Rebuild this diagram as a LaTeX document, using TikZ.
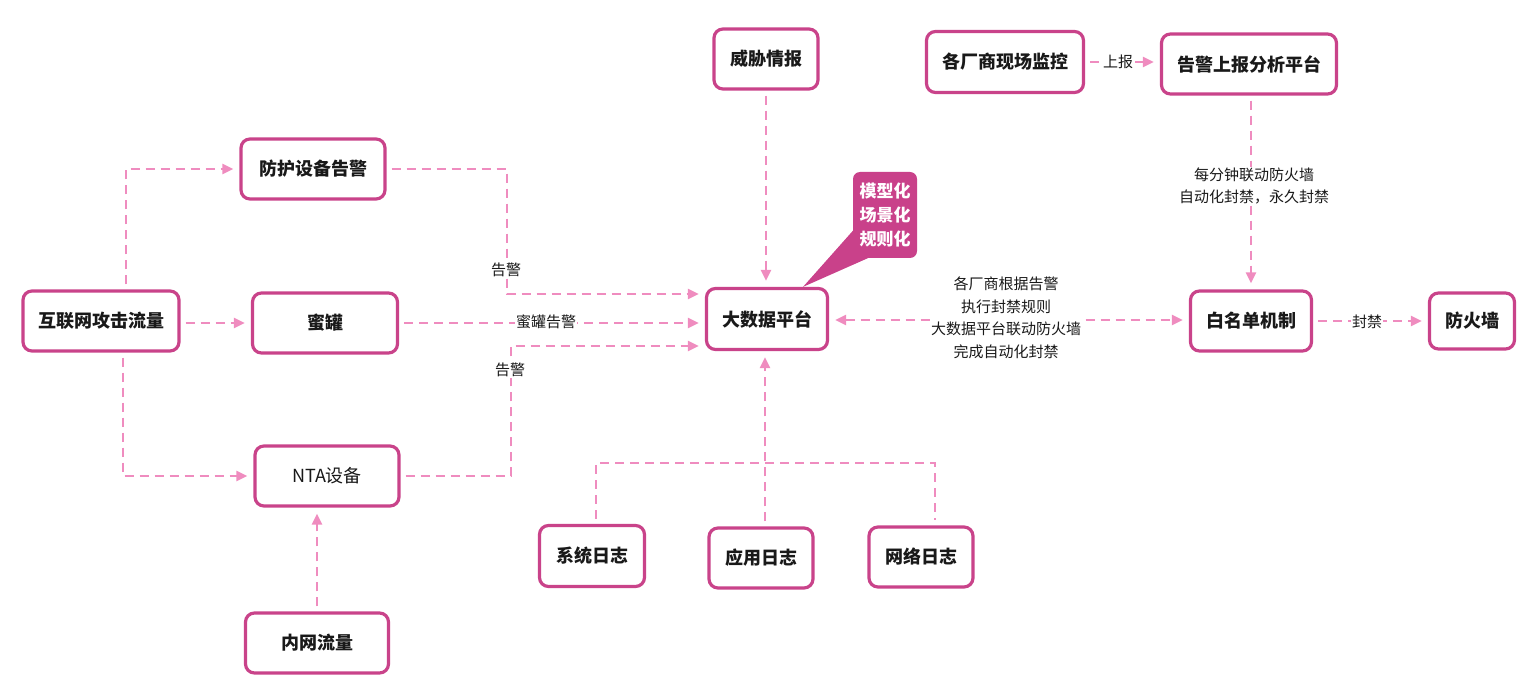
\documentclass[tikz,border=0pt]{standalone}
\usepackage{fontspec}
\setmainfont{Noto Sans CJK SC}
\usetikzlibrary{arrows.meta}

\definecolor{boxline}{HTML}{C9438A}
\definecolor{linkpink}{HTML}{EF8CBF}
\definecolor{calloutfill}{HTML}{C9418A}

\tikzset{
  box/.style={draw=boxline, line width=3.2pt, rounded corners=9pt, fill=white,
    minimum height=60pt, text=black!90, font=\fontsize{18}{20}\selectfont\bfseries},
  plain/.style={draw=linkpink, line width=2.3pt, dash pattern=on 9pt off 6pt,
    shorten <=5pt, shorten >=5pt},
  link/.style={plain, -{Triangle[length=11pt,width=10pt]}, shorten >=6pt},
  linkboth/.style={plain, {Triangle[length=11pt,width=10pt]}-{Triangle[length=11pt,width=10pt]},
    shorten >=6pt, shorten <=6pt},
  lab/.style={fill=white, inner sep=1pt, align=center, text=black!90,
    font=\fontsize{15}{22.5}\selectfont}
}

\begin{document}
\begin{tikzpicture}[x=1pt, y=-1pt]

            \useasboundingbox (0,0) rectangle (1519,679);

            \node[box, minimum width=156pt] (hulian) at (101,321) {互联网攻击流量};
            \node[box, minimum width=144pt] (fanghu) at (313,169) {防护设备告警};
            \node[box, minimum width=145pt] (miguan) at (325,323) {蜜罐};
            \node[box, minimum width=144pt, font=\fontsize{18}{20}\selectfont] (nta) at (327,476) {NTA设备};
            \node[box, minimum width=143pt] (neiwang) at (317,643) {内网流量};

            \node[box, minimum width=104pt] (weixie) at (766,59) {威胁情报};
            \node[box, minimum width=121pt, minimum height=61pt] (dashuju) at (767,319) {大数据平台};
            \node[box, minimum width=105pt, minimum height=61pt] (xitong) at (592,556) {系统日志};
            \node[box, minimum width=104pt] (yingyong) at (761,558) {应用日志};
            \node[box, minimum width=104pt] (wangluo) at (921,557) {网络日志};

            \node[box, minimum width=157pt, minimum height=61pt] (changshang) at (1005,62) {各厂商现场监控};
            \node[box, minimum width=175pt] (gaojing) at (1249,64) {告警上报分析平台};
            \node[box, minimum width=121pt] (baimingdan) at (1251,321) {白名单机制};
            \node[box, minimum width=85pt, minimum height=56pt] (fanghuoqiang) at (1472,321) {防火墙};

            \fill[calloutfill] ([xshift=36pt]dashuju.north) -- (858,225) -- (875,255) -- cycle;
            \node[fill=calloutfill, rounded corners=7pt, text=white, align=center,
              minimum width=64pt, minimum height=86pt,
              font=\fontsize{17}{24}\selectfont\bfseries] (moxing) at (885,215) {模型化\\场景化\\规则化};

            \draw[link] ([xshift=25pt]hulian.north) |- (fanghu.west);
            \draw[link] (hulian.east |- miguan.west) -- (miguan.west);
            \draw[link] ([xshift=22pt]hulian.south) |- (nta.west);
            \draw[link] (neiwang.north) -- (nta.south -| neiwang.north);

            \draw[link] (fanghu.east) -- ++(120.4,0) |- ([yshift=25pt]dashuju.west);
            \draw[link] (miguan.east) -- (miguan.east -| dashuju.west);
            \draw[link] (nta.east) -- ++(110.4,0) |- ([yshift=-27pt]dashuju.west);

            \draw[link] (weixie.south) -- (dashuju.north -| weixie.south);

            \coordinate (hub) at (765,463);
            \draw[plain] ([xshift=4pt]xitong.north) |- (hub) -| ([xshift=14pt]wangluo.north);
            \draw[link] (yingyong.north -| hub) -- (hub |- dashuju.south);

            \draw[linkboth] ([yshift=-1pt]dashuju.east) -- ([yshift=1pt]baimingdan.west);
            \draw[link] (changshang.east) -- (changshang.east -| gaojing.west);
            \draw[link] (gaojing.south -| baimingdan.north) -- (baimingdan.north);
            \draw[link] (baimingdan.east) -- (fanghuoqiang.west);

            \node[lab] (lbfanghu) at (506,270) {告警};
            \node[lab] (lbmiguan) at (546,322) {蜜罐告警};
            \node[lab] (lbnta) at (510,370) {告警};
            \node[lab] (lbliandong) at (1006,318) {各厂商根据告警\\执行封禁规则\\大数据平台联动防火墙\\完成自动化封禁};
            \node[lab] (lbshangbao) at (1118,62) {上报};
            \node[lab] (lbmeifen) at (1254,186) {每分钟联动防火墙\\自动化封禁，永久封禁};
            \node[lab] (lbfengjin) at (1367,322) {封禁};

        \end{tikzpicture}
\end{document}
